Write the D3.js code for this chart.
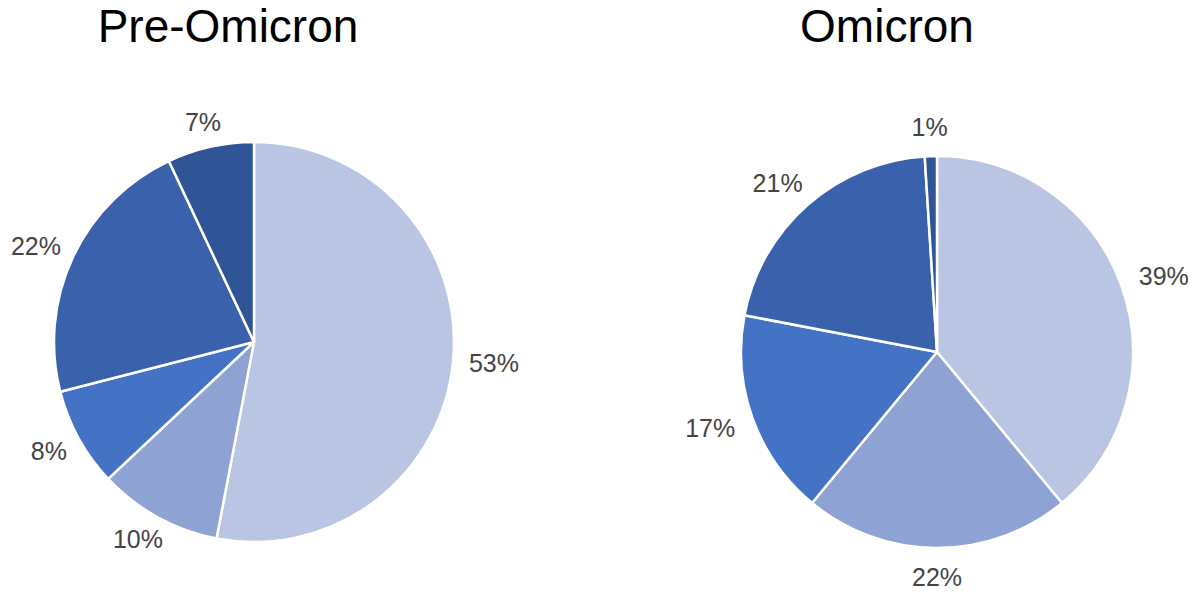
<!DOCTYPE html>
<html>
<head>
<meta charset="utf-8">
<script src="https://cdn.jsdelivr.net/npm/d3@7"></script>
<style>
  html, body { margin: 0; padding: 0; background: #ffffff; }
  svg { display: block; }
</style>
</head>
<body>
<svg id="chart" width="1197" height="592"></svg>
<script>
// Share of cases per group, before and during the Omicron wave
const categories = ["A", "B", "C", "D", "E"];
const preOmicronValues = [53, 10, 8, 22, 7];
const omicronValues = [39, 22, 17, 21, 1];
const chartTitles = ["Pre-Omicron", "Omicron"];
const sliceColors = ["#bac4e3", "#8fa2d4", "#4472c4", "#3a62ac", "#2f5597"];

const svg = d3.select("#chart");
const color = d3.scaleOrdinal().domain(categories).range(sliceColors);

const pie = d3.pie().sort(null).value(d => d.value);

function drawPie(values, title, cx, cy, r, titleX, gap) {
  const data = categories.map((c, i) => ({ key: c, value: values[i] }));
  const arcs = pie(data);
  const arc = d3.arc().innerRadius(0).outerRadius(r);

  svg.append("text")
    .attr("x", titleX)
    .attr("y", 42)
    .attr("text-anchor", "middle")
    .attr("font-family", "Liberation Sans, Arial, sans-serif")
    .attr("font-size", 46)
    .attr("fill", "#000")
    .text(title);

  const g = svg.append("g").attr("transform", `translate(${cx},${cy})`);

  g.selectAll("path")
    .data(arcs)
    .join("path")
    .attr("d", arc)
    .attr("fill", d => color(d.data.key))
    .attr("stroke", "#ffffff")
    .attr("stroke-width", 2.5)
    .attr("stroke-linejoin", "round");

  // Percentage labels sit just outside the rim, pushed out by half their box
  const fontSize = 25;
  g.selectAll("text.lbl")
    .data(arcs)
    .join("text")
    .attr("class", "lbl")
    .attr("font-family", "Liberation Sans, Arial, sans-serif")
    .attr("font-size", fontSize)
    .attr("fill", "#444444")
    .attr("text-anchor", "middle")
    .attr("dominant-baseline", "central")
    .text(d => d.data.value + "%")
    .each(function (d) {
      const a = (d.startAngle + d.endAngle) / 2;
      const s = Math.sin(a), c = -Math.cos(a);
      const w = this.getComputedTextLength();
      const h = fontSize * 0.75;
      const x = s * (r + gap) + s * w / 2;
      const y = c * (r + gap) + c * h / 2;
      d3.select(this).attr("x", x).attr("y", y);
    });
}

drawPie(preOmicronValues, chartTitles[0], 254, 342, 200, 228, 16);
drawPie(omicronValues, chartTitles[1], 937, 352, 196, 887, 20);
</script>
</body>
</html>
